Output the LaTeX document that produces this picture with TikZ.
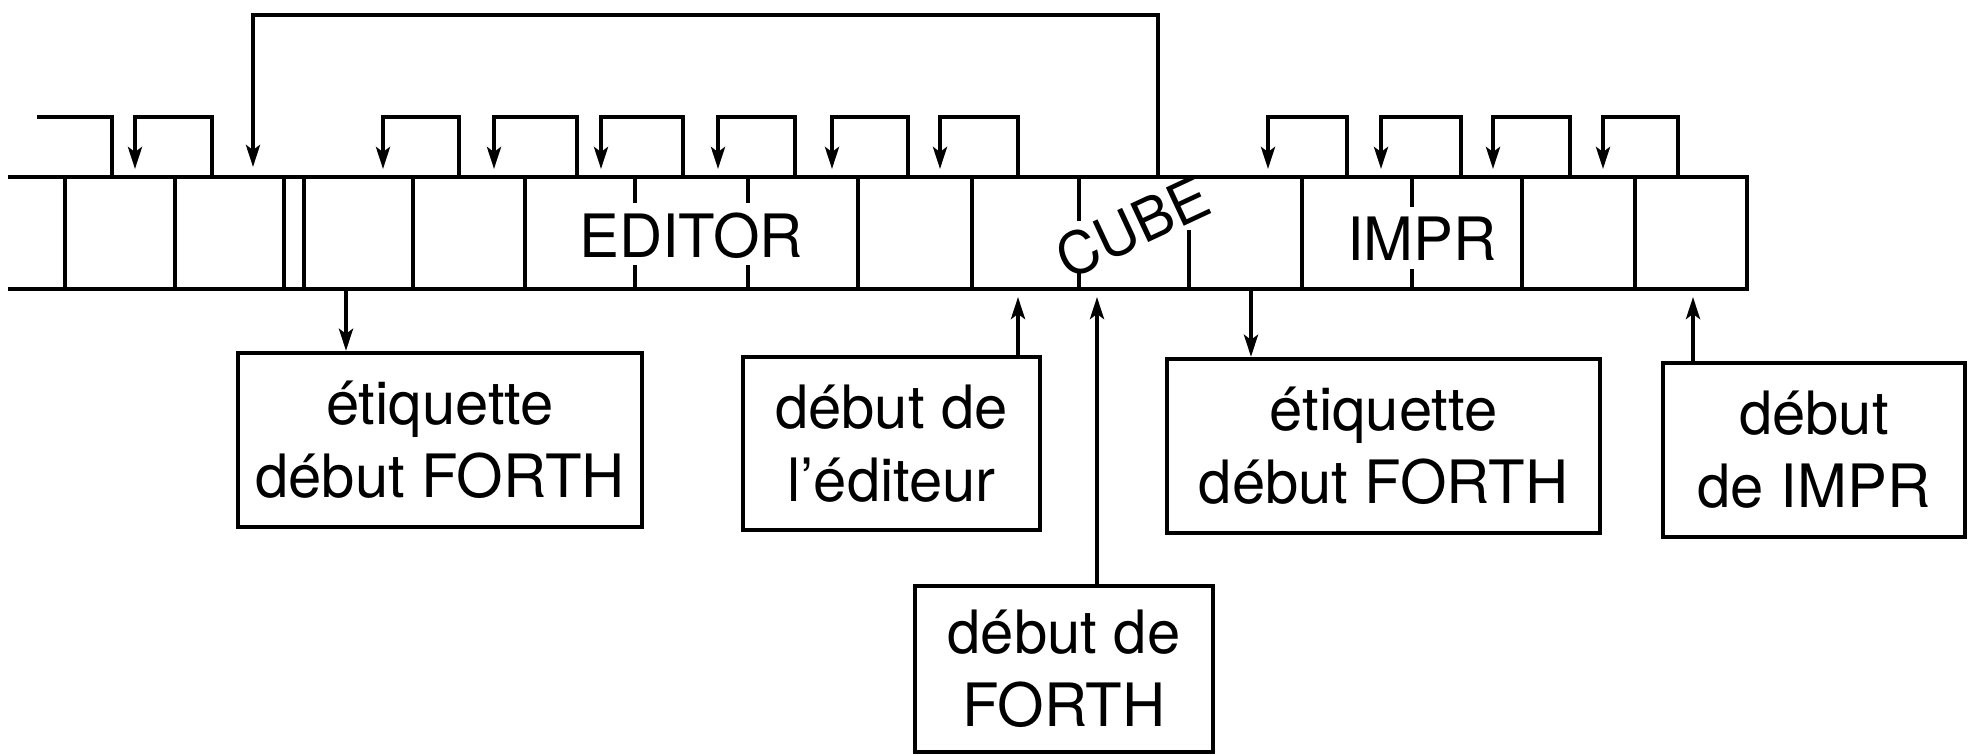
\documentclass[tikz,border=0pt]{standalone}
\usepackage{fontspec}
\setmainfont{TeX Gyre Heros}
\usepackage{tikz}
\usetikzlibrary{positioning,arrows.meta,calc}

\tikzset{
  tape/.style={line width=1.1pt},
  celltxt/.style={inner sep=0pt,font=\fontsize{17}{20.8}\selectfont},
  lbl/.style={draw,line width=1.2pt,align=center,inner sep=0pt,font=\fontsize{17}{20.8}\selectfont},
  ptr/.style={line width=1.1pt,-{Stealth[length=2.2mm,width=1.4mm,inset=0.5mm]}}
}

\begin{document}
\begin{tikzpicture}[x=0.01cm,y=-0.01cm]
\useasboundingbox (0,0) rectangle (1978,755);

% --- memory tape ---
\draw[tape] (8,177) -- (1747,177) -- (1747,289) -- (8,289);
\foreach \x in {65,175,284,304,413,525,858,972,1302,1522,1635}
  \draw[tape] (\x,177) -- (\x,289);
% split cells (short ticks)
\foreach \x in {635,748}
  \draw[tape] (\x,177) -- ++(0,26) (\x,289) -- ++(0,-24);
\draw[tape] (1079,177) -- ++(0,44) (1079,289) -- ++(0,-16);
\draw[tape] (1189,289) -- (1189,230);
\draw[tape] (1412,177) -- ++(0,30) (1412,289) -- ++(0,-20);

% --- words in the tape ---
\node[celltxt] (editor) at (691,236) {EDITOR};
\node[celltxt,font=\fontsize{16.5}{20}\selectfont,rotate=25] (cube) at (1133,227) {CUBE};
\node[celltxt] (impr) at (1422,239) {IMPR};

% --- link fields ---
\coordinate (in) at (37,117);
\coordinate (t0) at (112,177);
\draw[tape] (in) -| (t0);
\foreach \t/\h [count=\i] in {212/135,459/383,577/494,683/601,795/718,908/832,1018/940,1347/1268,1461/1381,1570/1493,1678/1603} {
  \coordinate (t\i) at (\t,177);
  \coordinate (h\i) at (\h,177);
  \draw[ptr,shorten >=0.8mm] (t\i) -- ++(0,-60) -| (h\i);
}
\coordinate (lt) at (1158,177);
\coordinate (lh) at (253,177);
\draw[ptr,shorten >=1mm] (lt) -- ++(0,-162) -| (lh);

% --- boxes below ---
\node[lbl,minimum width=4.04cm,minimum height=1.74cm] (etq1) at (440,440) {étiquette\\début FORTH};
\node[lbl,minimum width=2.97cm,minimum height=1.73cm] (edit) at (891.5,443.5) {début de\\l’éditeur};
\node[lbl,minimum width=2.98cm,minimum height=1.66cm] (forth) at (1064,669) {début de\\FORTH};
\node[lbl,minimum width=4.33cm,minimum height=1.74cm] (etq2) at (1383.5,446) {étiquette\\début FORTH};
\node[lbl,minimum width=3.02cm,minimum height=1.74cm] (imprbox) at (1814,450) {début\\de IMPR};

% --- pointers into the tape ---
\coordinate (a1) at (346,289);
\coordinate (a2) at (1018,289);
\coordinate (a3) at (1097,289);
\coordinate (a4) at (1251,289);
\coordinate (a5) at (1693,289);
\draw[ptr] (a1) -- (a1 |- etq1.north);
\draw[ptr,shorten >=0.8mm] (edit.north -| a2) -- (a2);
\draw[ptr,shorten >=0.8mm] (forth.north -| a3) -- (a3);
\draw[ptr] (a4) -- (a4 |- etq2.north);
\draw[ptr,shorten >=0.8mm] (imprbox.north -| a5) -- (a5);
\end{tikzpicture}
\end{document}
